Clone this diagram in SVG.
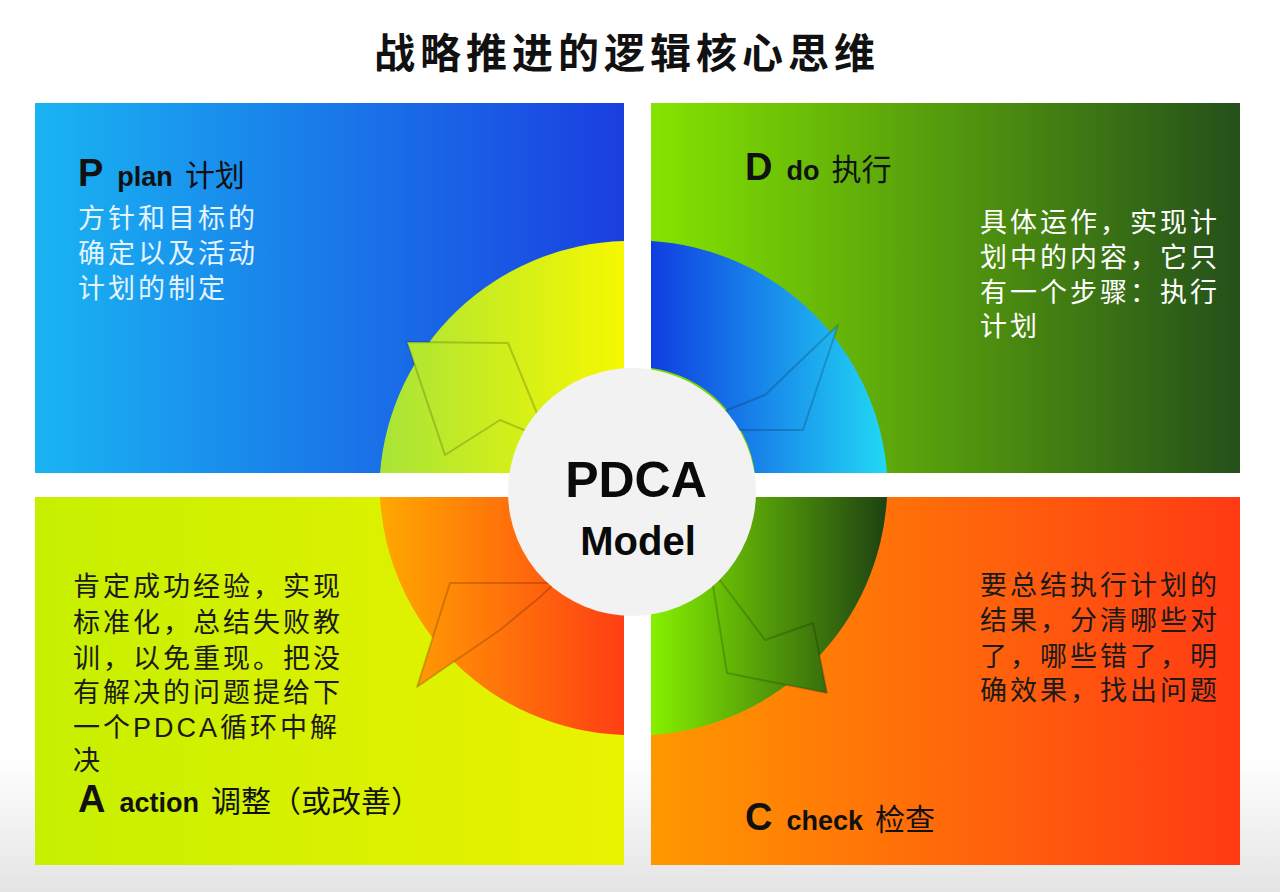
<svg xmlns="http://www.w3.org/2000/svg" width="1280" height="892" viewBox="0 0 1280 892">
<defs>
<linearGradient id="gP" x1="0" x2="1"><stop offset="0" stop-color="#19b4f2"/><stop offset="1" stop-color="#1a3fe0"/></linearGradient>
<linearGradient id="gD" x1="0" x2="1"><stop offset="0" stop-color="#84e400"/><stop offset="1" stop-color="#24501a"/></linearGradient>
<linearGradient id="gA" x1="0" x2="1"><stop offset="0" stop-color="#c6f000"/><stop offset="1" stop-color="#eaf200"/></linearGradient>
<linearGradient id="gC" x1="0" x2="1"><stop offset="0" stop-color="#ff9800"/><stop offset="1" stop-color="#ff3a14"/></linearGradient>
<linearGradient id="rP" gradientUnits="userSpaceOnUse" x1="380" y1="0" x2="624" y2="0"><stop offset="0" stop-color="#a8e438"/><stop offset="1" stop-color="#f6f800"/></linearGradient>
<linearGradient id="rD" gradientUnits="userSpaceOnUse" x1="651" y1="0" x2="887" y2="0"><stop offset="0" stop-color="#0f3ee0"/><stop offset="1" stop-color="#22d8f4"/></linearGradient>
<linearGradient id="rA" gradientUnits="userSpaceOnUse" x1="380" y1="0" x2="624" y2="0"><stop offset="0" stop-color="#ffa800"/><stop offset="1" stop-color="#ff3e14"/></linearGradient>
<linearGradient id="rC" gradientUnits="userSpaceOnUse" x1="651" y1="0" x2="887" y2="0"><stop offset="0" stop-color="#86f000"/><stop offset="1" stop-color="#1e4212"/></linearGradient>
<linearGradient id="bg" x1="0" y1="0" x2="0" y2="1"><stop offset="0" stop-color="#ffffff"/><stop offset="0.85" stop-color="#ffffff"/><stop offset="1" stop-color="#e4e4e4"/></linearGradient>
</defs>
<style>
.t{font-family:"Liberation Sans","Noto Sans CJK SC",sans-serif}
.big{font-size:38px;font-weight:bold}
.en{font-size:27px;font-weight:bold}
.cn{font-size:30px}
.body{font-size:27px;letter-spacing:3px}
.head{stroke:#000;stroke-opacity:0.18;stroke-width:2;stroke-linejoin:round}
</style>
<rect width="1280" height="892" fill="url(#bg)"/>
<text class="t" x="627" y="68" text-anchor="middle" font-size="41" font-weight="bold" letter-spacing="5" fill="#111">战略推进的逻辑核心思维</text>

<g id="panel-p">
<rect x="35" y="103" width="589" height="370" fill="url(#gP)"/>
<path d="M380,473 A252,252 0 0 1 624,241 L624,370 A122,122 0 0 0 512,473 Z" fill="url(#rP)"/>
<polygon class="head" points="407,342 508,343 548,440 500,420 445,455" fill="url(#rP)"/>
<text class="t" x="78" y="186"><tspan class="big" fill="#111">P</tspan><tspan class="en" dx="14" fill="#111">plan</tspan><tspan class="cn" dx="12" fill="#111">计划</tspan></text>
<text class="t body" fill="#e4f4ff"><tspan x="78" y="228">方针和目标的</tspan><tspan x="78" y="263">确定以及活动</tspan><tspan x="78" y="298">计划的制定</tspan></text>
</g>

<g id="panel-d">
<rect x="651" y="103" width="589" height="370" fill="url(#gD)"/>
<path d="M651,241 A252,252 0 0 1 887,473 L755,473 A122,122 0 0 0 651,368 Z" fill="url(#rD)"/>
<polygon class="head" points="838,325 803,430 697,430 712,416 765,395" fill="url(#rD)"/>
<text class="t" x="745" y="180"><tspan class="big" fill="#111">D</tspan><tspan class="en" dx="14" fill="#111">do</tspan><tspan class="cn" dx="12" fill="#111">执行</tspan></text>
<text class="t body" fill="#ffffff"><tspan x="980" y="232">具体运作，实现计</tspan><tspan x="980" y="267">划中的内容，它只</tspan><tspan x="980" y="302">有一个步骤：执行</tspan><tspan x="980" y="336">计划</tspan></text>
</g>

<g id="panel-a">
<rect x="35" y="497" width="589" height="368" fill="url(#gA)"/>
<path d="M380,497 A252,252 0 0 0 624,735 L624,612 A122,122 0 0 1 512,497 Z" fill="url(#rA)"/>
<polygon class="head" points="417,687 450,583 555,583 540,597 500,630" fill="url(#rA)"/>
<text class="t body" fill="#1a1a1a"><tspan x="73" y="596">肯定成功经验，实现</tspan><tspan x="73" y="632">标准化，总结失败教</tspan><tspan x="73" y="668">训，以免重现。把没</tspan><tspan x="73" y="702">有解决的问题提给下</tspan><tspan x="73" y="737">一个PDCA循环中解</tspan><tspan x="73" y="770">决</tspan></text>
<text class="t" x="78" y="812"><tspan class="big" fill="#111">A</tspan><tspan class="en" dx="14" fill="#111">action</tspan><tspan class="cn" dx="12" fill="#111">调整（或改善）</tspan></text>
</g>

<g id="panel-c">
<rect x="651" y="497" width="589" height="368" fill="url(#gC)"/>
<path d="M887,497 A252,252 0 0 1 651,735 L651,612 A122,122 0 0 0 755,497 Z" fill="url(#rC)"/>
<polygon class="head" points="710,567 727,673 827,693 813,623 765,640" fill="url(#rC)"/>
<text class="t body" fill="#1a1a1a"><tspan x="980" y="595">要总结执行计划的</tspan><tspan x="980" y="630">结果，分清哪些对</tspan><tspan x="980" y="666">了，哪些错了，明</tspan><tspan x="980" y="700">确效果，找出问题</tspan></text>
<text class="t" x="745" y="830"><tspan class="big" fill="#111">C</tspan><tspan class="en" dx="14" fill="#111">check</tspan><tspan class="cn" dx="12" fill="#111">检查</tspan></text>
</g>

<g id="center">
<circle cx="632" cy="492" r="124" fill="#f2f2f2"/>
<text class="t" x="636" y="497" text-anchor="middle" font-size="50" font-weight="bold" fill="#0a0a0a">PDCA</text>
<text class="t" x="638" y="555" text-anchor="middle" font-size="40" font-weight="bold" fill="#0a0a0a">Model</text>
</g>
<g id="connectors"/>
</svg>
